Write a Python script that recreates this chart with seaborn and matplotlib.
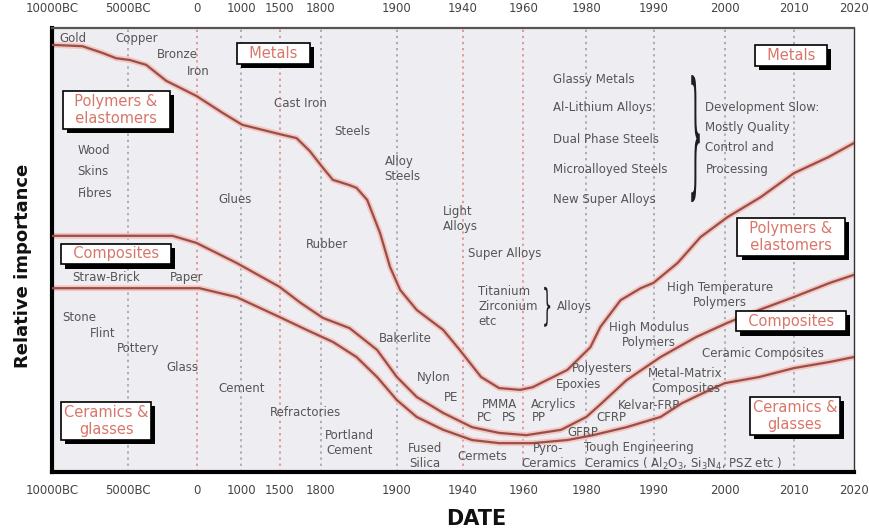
import numpy as np
import pandas as pd
import seaborn as sns
import matplotlib
matplotlib.use("Agg")
import matplotlib.pyplot as plt
import matplotlib.transforms as mtransforms
import matplotlib.patheffects as pe
from matplotlib.textpath import TextPath
from matplotlib.patches import PathPatch
from matplotlib.font_manager import FontProperties
from matplotlib.ticker import NullLocator

# date axis of the schematic (uneven spacing of the original)
tick_years = [-10000, -5000, 0, 1000, 1500, 1800, 1900, 1940, 1960, 1980, 1990, 2000, 2010, 2020]
tick_labels = ["10000BC", "5000BC", "0", "1000", "1500", "1800", "1900", "1940", "1960",
               "1980", "1990", "2000", "2010", "2020"]
tick_pos = [0, 76, 145, 189, 227, 268, 344, 410, 470, 533, 600, 671, 740, 800]

# boundary curves (relative importance, 0-100)
metal_year = [-10000, -8000, -6700, -5800, -4900, -3700, -2250, -70, 570, 1010, 1500, 1624,
              1720, 1803, 1816, 1838, 1847, 1861, 1878, 1891, 1902, 1912, 1928, 1938, 1946,
              1952, 1959, 1963, 1974, 1980.6, 1982.1, 1985.1, 1988.1, 1990, 1993.4, 1996.6,
              2000.4, 2005.2, 2010, 2015.7, 2020]
metal_val = [96.2, 95.9, 94.4, 93.2, 92.8, 91.7, 88.1, 84.7, 80.9, 78.2, 76.1, 75.2,
             72.3, 68.5, 65.8, 64.6, 64.0, 61.3, 53.8, 46.2, 41.0, 36.5, 32.0, 27.5, 21.4,
             18.9, 18.5, 19.1, 23.0, 28.1, 32.7, 38.7, 41.4, 42.6, 47.1, 52.9,
             57.4, 61.9, 67.3, 70.9, 74.1]

poly_year = [-10000, -1800, -70, 886, 1500, 1653, 1803, 1838, 1874, 1900, 1912, 1928, 1943,
             1952, 1961, 1972, 1980, 1982, 1986, 1991, 1996, 2000.4, 2005, 2010, 2016, 2020]
poly_val = [53.2, 53.2, 51.6, 47.1, 41.7, 38.1, 34.7, 32.4, 27.5, 21.4, 16.9, 13.3, 10.1,
            8.8, 8.3, 9.5, 12.4, 15.1, 20.7, 25.9, 30.4, 33.6, 36.5, 39.4, 42.6, 44.4]

comp_year = [-10000, 45, 886, 1500, 1698, 1816, 1847, 1874, 1900, 1912, 1928, 1943, 1952,
             1963, 1974, 1981, 1986, 1991, 1994, 1997, 2000, 2005, 2010, 2016, 2020]
comp_val = [41.4, 41.4, 39.4, 34.9, 32.0, 29.3, 25.9, 21.4, 16.2, 12.4, 9.5, 7.2, 6.5,
            6.5, 7.2, 8.3, 10.1, 12.4, 15.5, 17.8, 20.0, 21.4, 23.4, 24.8, 25.9]

# class labels in boxes
box_text = ["  Metals  ", "  Metals  ", "  Polymers &  \n  elastomers  ", "  Composites  ",
            "Ceramics &\nglasses", "  Polymers &  \n  elastomers  ", "  Composites  ",
            "Ceramics &\nglasses"]
box_year = [1421, 2009.6, -5789, -5789, -6447, 2009.6, 2009.6, 2010.2]
box_val = [94.3, 93.9, 81.5, 49.1, 11.5, 52.9, 34.0, 12.6]

# material names, centred
note_text = ["Gold", "Copper", "Bronze", "Iron", "Cast Iron", "Steels", "Wood", "Skins",
             "Fibres", "Glues", "Rubber", "Super Alloys", "Bakerlite", "Nylon", "PE",
             "PMMA", "Acrylics", "PC", "PS", "PP", "Portland\nCement", "Refractories",
             "Fused\nSilica", "Cermets", "Pyro-\nCeramics", "High Temperature\nPolymers",
             "High Modulus\nPolymers", "Ceramic Composites", "Polyesters",
             "Metal-Matrix\nComposites", "Epoxies", "Kelvar-FRP", "CFRP", "GFRP", "Stone",
             "Flint", "Pottery", "Glass", "Cement", "Straw-Brick", "Paper"]
note_year = [-8600, -4350, -1450, 20, 1654, 1841, -7240, -7300, -7170, 864, 1808, 1954,
             1905, 1922, 1933, 1952, 1969.5, 1947, 1955.3, 1965, 1838, 1690, 1917, 1946.3,
             1968, 1999.3, 1989.3, 2005.5, 1982.4, 1994.5, 1977.5, 1989.3, 1983.7, 1979,
             -8224, -6645, -4275, -1087, 1000, -6447, -797]
note_val = [97.7, 97.7, 94.1, 90.3, 83.1, 76.6, 72.3, 67.6, 62.8, 61.3, 51.3, 49.3,
            30.0, 21.2, 16.7, 15.3, 15.3, 12.2, 12.2, 12.2, 6.5, 13.3, 3.6, 3.6,
            3.6, 39.9, 30.9, 26.8, 23.4, 20.5, 19.6, 14.9, 12.2, 8.8, 34.7,
            31.3, 27.9, 23.6, 18.9, 43.7, 43.7]

# material names, left aligned
left_text = ["Alloy\nSteels", "Light\nAlloys", "Titanium\nZirconium\netc", "Alloys",
             "Glassy Metals", "Al-Lithium Alloys", "Dual Phase Steels", "Microalloyed Steels",
             "New Super Alloys", "Development Slow:", "Mostly Quality", "Control and",
             "Processing",
             "Tough Engineering\nCeramics ( Al$_2$O$_3$, Si$_3$N$_4$, PSZ etc )"]
left_year = [1884, 1928, 1945, 1970.8, 1969.5, 1969.5, 1969.5, 1969.5, 1969.5,
             1997.3, 1997.3, 1997.3, 1997.3, 1979.4]
left_val = [68.2, 57.0, 37.2, 37.2, 88.5, 82.0, 74.8, 68.2, 61.3, 82.0, 77.5, 73.0, 68.2, 3.5]

# braces: year, low, high
brace_year = [1967.6, 1995.9]
brace_low = [32.7, 60.8]
brace_high = [41.7, 89.4]

red_lines = [0, 1500, 1940, 1960]


def fwd(y):
    return np.interp(y, tick_years, tick_pos)


def inv(p):
    return np.interp(p, tick_pos, tick_years)


def curly_brace(ax, year, lo, hi, half_w):
    tp = TextPath((0, 0), "}", size=1, prop=FontProperties(family="DejaVu Sans"))
    ext = tp.get_extents()
    tr = (mtransforms.Affine2D()
          .translate(-ext.x0, -ext.y0)
          .scale(2 * half_w / ext.width, (hi - lo) / ext.height)
          .translate(year - half_w, lo)) + ax.transData
    ax.add_patch(PathPatch(tp, transform=tr, fc="#1e1e1e", ec="none", zorder=4))


sns.set_theme(style="white")
plt.rcParams["font.family"] = ["DejaVu Sans"]

fig = plt.figure(figsize=(8.69, 5.31), dpi=100)
ax = fig.add_axes([52 / 869, 1 - 472 / 531, 802 / 869, 444 / 531])
ax.set_facecolor("#eeeef2")
ax.set_xscale("function", functions=(fwd, inv))

df = pd.concat([
    pd.DataFrame({"Date": metal_year, "Importance": metal_val, "Curve": "metals"}),
    pd.DataFrame({"Date": poly_year, "Importance": poly_val, "Curve": "polymers"}),
    pd.DataFrame({"Date": comp_year, "Importance": comp_val, "Curve": "composites"}),
])

# soft pink halo, then the dark red core
sns.lineplot(data=df, x="Date", y="Importance", hue="Curve", units="Curve", estimator=None,
             sort=False, palette=["#f3c6c0"] * 3, lw=4.2, legend=False, ax=ax, zorder=2)
sns.lineplot(data=df, x="Date", y="Importance", hue="Curve", units="Curve", estimator=None,
             sort=False, palette=["#9a4e4a"] * 3, lw=1.6, legend=False, ax=ax, zorder=3)

for yr in tick_years[1:-1]:
    col = "#d98484" if yr in red_lines else "#9b9aa8"
    ax.axvline(yr, color=col, ls=(0, (1.5, 2.5)), lw=1.1, zorder=1)

ax.set_xlim(-10000, 2020)
ax.set_ylim(0, 100)
ax.set_yticks([])
ax.set_xticks(tick_years, labels=tick_labels)
ax.xaxis.set_minor_locator(NullLocator())
ax.tick_params(axis="x", bottom=True, top=True, labelbottom=True, labeltop=True,
               length=0, labelsize=8.5, labelcolor="#444444", pad=9)

ax.spines["left"].set_linewidth(3)
ax.spines["left"].set_color("black")
ax.spines["bottom"].set_linewidth(3)
ax.spines["bottom"].set_color("black")
ax.spines["top"].set_linewidth(1.6)
ax.spines["top"].set_color("#555555")
ax.spines["right"].set_linewidth(1.0)
ax.spines["right"].set_color("#333333")

ax.set_xlabel("DATE", fontsize=15, fontweight="bold", color="#111111")
ax.xaxis.set_label_coords(0.529, -0.083)
ax.set_ylabel("Relative importance", fontsize=13, fontweight="bold", color="#111111")
ax.yaxis.set_label_coords(-0.025, 0.464)

for t, x, y in zip(note_text, note_year, note_val):
    ax.text(x, y, t, ha="center", va="center", fontsize=8.5, color="#555555",
            multialignment="center", zorder=4)
for t, x, y in zip(left_text, left_year, left_val):
    ax.text(x, y, t, ha="left", va="center", fontsize=8.5, color="#555555", zorder=4)

for x, lo, hi in zip(brace_year, brace_low, brace_high):
    half = 0.95 if x < 1980 else 0.6
    curly_brace(ax, x, lo, hi, half)

# boxed class names with a hard black drop shadow
for t, x, y in zip(box_text, box_year, box_val):
    txt = ax.text(x, y, t, ha="center", va="center", fontsize=10.5, color="#d9766a",
                  multialignment="center", zorder=6,
                  bbox=dict(boxstyle="square,pad=0.2", fc="white", ec="black", lw=1.2))
    txt.get_bbox_patch().set_path_effects([
        pe.SimplePatchShadow(offset=(3, -3), shadow_rgbFace="black", alpha=1.0),
        pe.Normal(),
    ])

plt.savefig("out.png", dpi=100)
